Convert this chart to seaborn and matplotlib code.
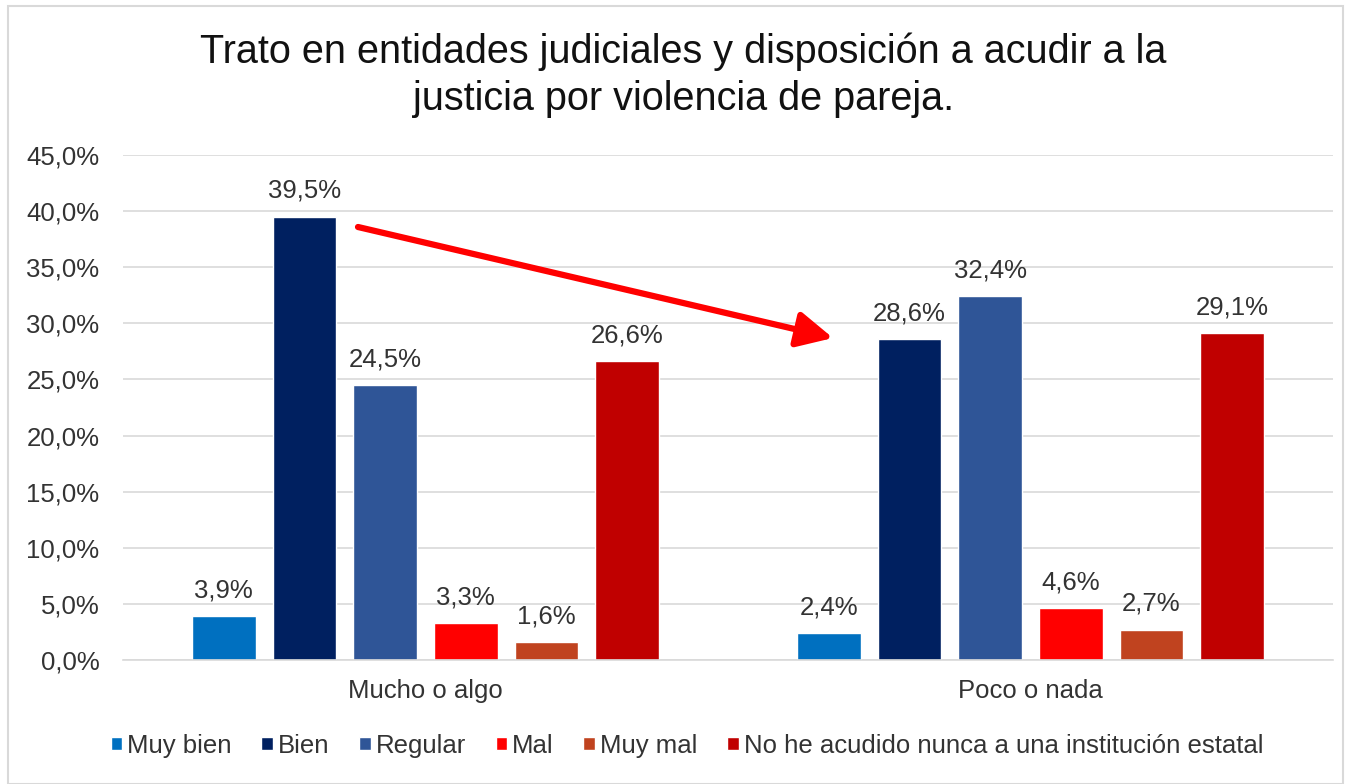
import pandas as pd
import seaborn as sns
import matplotlib.pyplot as plt
from matplotlib.patches import Rectangle
from matplotlib.ticker import FuncFormatter

sns.set_theme(style="white")
plt.rcParams['font.family'] = ['Liberation Sans', 'DejaVu Sans']

grupos = ["Mucho o algo", "Poco o nada"]
respuestas = ["Muy bien", "Bien", "Regular", "Mal", "Muy mal",
              "No he acudido nunca a una institución estatal"]
mucho_algo = [3.9, 39.5, 24.5, 3.3, 1.6, 26.6]
poco_nada = [2.4, 28.6, 32.4, 4.6, 2.7, 29.1]
colores = ["#0070C0", "#002060", "#2F5597", "#FF0000", "#C0431F", "#C00000"]
yticks = [0, 5, 10, 15, 20, 25, 30, 35, 40, 45]

df = pd.DataFrame({
    "grupo": [grupos[0]] * 6 + [grupos[1]] * 6,
    "respuesta": respuestas * 2,
    "valor": mucho_algo + poco_nada,
})

fig = plt.figure(figsize=(13.5, 7.84), dpi=100)
ax = fig.add_axes([123 / 1350, 124 / 784, 1210 / 1350, 505 / 784])

sns.barplot(data=df, x="grupo", y="valor", hue="respuesta", order=grupos,
            hue_order=respuestas, palette=colores, width=0.8, gap=0.21,
            saturation=1, ax=ax, legend=True)

for cont in ax.containers:
    ax.bar_label(cont, labels=[f"{v:.1f}%".replace(".", ",") for v in cont.datavalues],
                 padding=10, fontsize=18.5, color="#333333")

ax.set_ylim(0, 45)
ax.set_yticks(yticks)
ax.yaxis.set_major_formatter(FuncFormatter(lambda v, p: f"{v:.1f}%".replace(".", ",")))
ax.grid(axis="y", color="#D9D9D9", linewidth=1.2)
ax.set_axisbelow(True)
for s in ["top", "right", "left"]:
    ax.spines[s].set_visible(False)
ax.spines["bottom"].set_color("#D9D9D9")
ax.spines["bottom"].set_linewidth(1.2)
ax.tick_params(axis="y", labelsize=18.5, colors="#333333", pad=17, length=0)
ax.tick_params(axis="x", labelsize=18.5, colors="#333333", pad=14, length=0)
ax.set_xlabel("")
ax.set_ylabel("")

ax.legend(loc="upper center", bbox_to_anchor=(0.466, -0.1), ncol=6, frameon=False,
          fontsize=18.5, handlelength=0.45, handleheight=0.45, handletextpad=0.2,
          columnspacing=1.15, labelcolor="#333333")

fig.suptitle("Trato en entidades judiciales y disposición a acudir a la\n"
             "justicia por violencia de pareja.",
             x=0.506, y=0.958, fontsize=28.5, color="#111111", linespacing=1.3)

ax.annotate("", xy=(833 / 1350, 1 - 338 / 784), xytext=(358 / 1350, 1 - 227 / 784),
            xycoords="figure fraction", textcoords="figure fraction",
            arrowprops=dict(arrowstyle="-|>,head_length=1.8,head_width=0.9",
                            color="#FF0000", lw=4.5, shrinkA=0, shrinkB=0))

fig.patches.append(Rectangle((8 / 1350, 0), 1335 / 1350, 1 - 6 / 784,
                             transform=fig.transFigure, fill=False,
                             edgecolor="#D9D9D9", linewidth=1.5))

fig.savefig("out.png", dpi=100)
